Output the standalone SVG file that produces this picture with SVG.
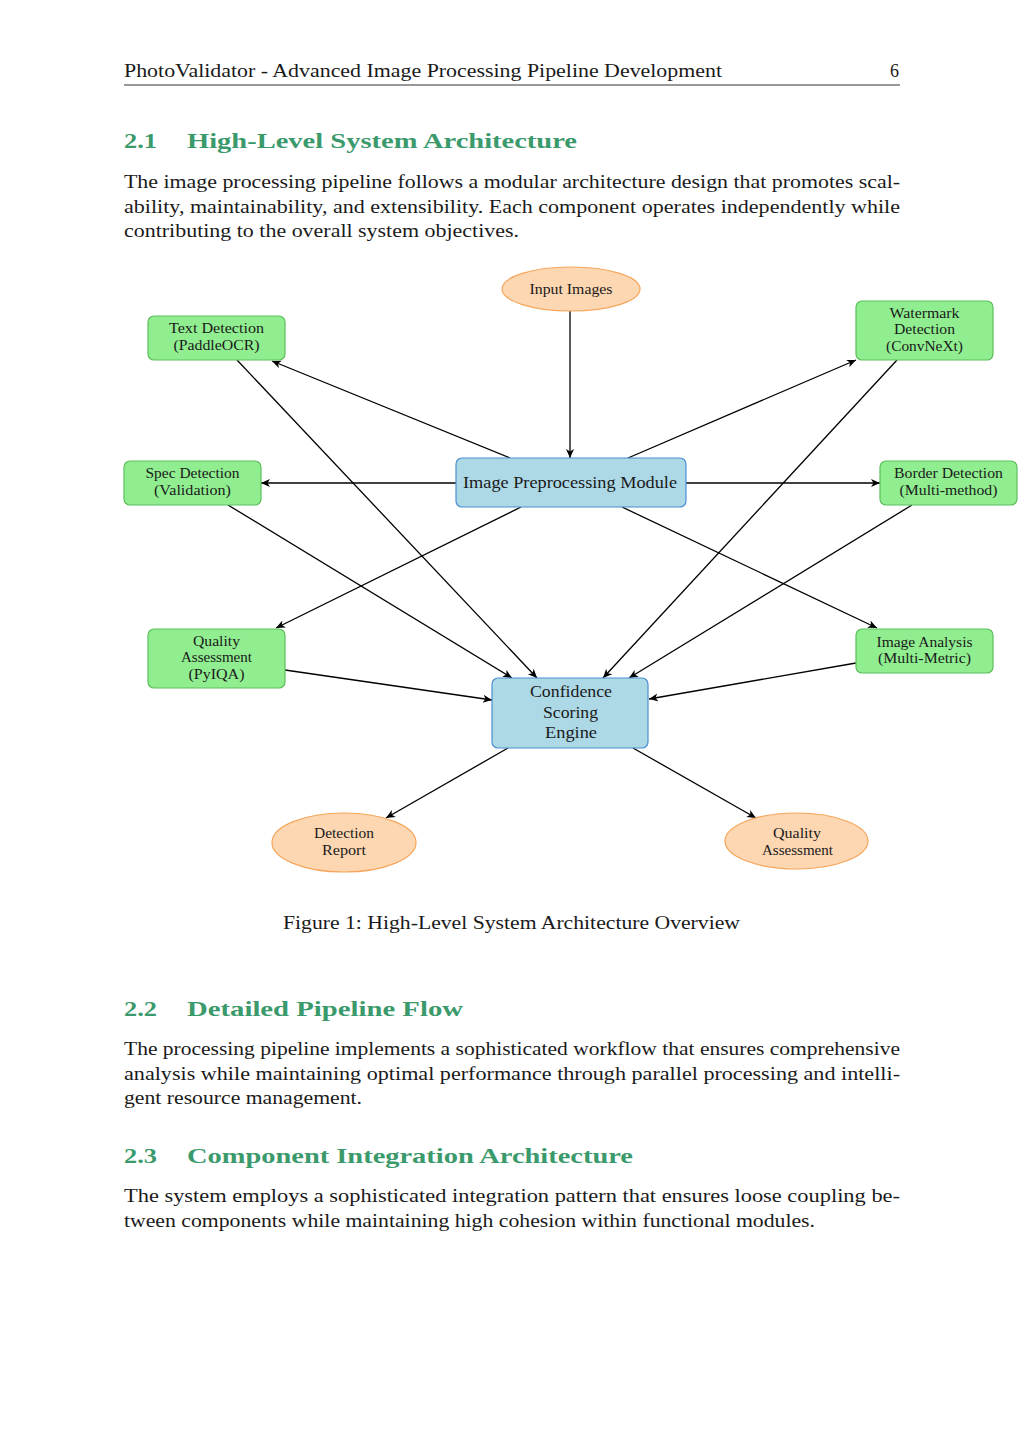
<svg xmlns="http://www.w3.org/2000/svg" width="1024" height="1448" viewBox="0 0 1024 1448">
<defs>
<style>
text{font-family:"Liberation Serif","DejaVu Serif",serif;fill:#1a1a1a}
.hdr{font-size:18px}
.body{font-size:18.5px}
.h{font-size:21px;font-weight:bold;fill:#3b9a6c}
.cap{font-size:18px}
.n{font-size:14.5px;text-anchor:middle}
.nb{font-size:17px;text-anchor:middle}
.g{fill:#90ee90;stroke:#5cbf5c;stroke-width:1.2}
.b{fill:#add8e6;stroke:#4a8fd0;stroke-width:1.2}
.o{fill:#fdd6b2;stroke:#f5a55a;stroke-width:1.2}
.e{stroke:#000;stroke-width:1.3;fill:none;marker-end:url(#arr)}
</style>
<marker id="arr" markerUnits="userSpaceOnUse" markerWidth="12" markerHeight="10" refX="9" refY="4" orient="auto">
<path d="M0,0 L9,4 L0,8 L2.5,4 z" fill="#000"/>
</marker>
</defs>
<rect width="1024" height="1448" fill="#fff"/>

<g id="header">
<text class="hdr" x="124" y="77" textLength="598" lengthAdjust="spacingAndGlyphs">PhotoValidator - Advanced Image Processing Pipeline Development</text>
<text class="hdr" x="899" y="77" text-anchor="end">6</text>
<line x1="124" y1="85" x2="900" y2="85" stroke="#333" stroke-width="1"/>
</g>

<g id="sec21">
<text class="h" x="124" y="148" textLength="33" lengthAdjust="spacingAndGlyphs">2.1</text>
<text class="h" x="187" y="148" textLength="390" lengthAdjust="spacingAndGlyphs">High-Level System Architecture</text>
<text class="body" x="124" y="188" textLength="776" lengthAdjust="spacingAndGlyphs">The image processing pipeline follows a modular architecture design that promotes scal-</text>
<text class="body" x="124" y="212.5" textLength="776" lengthAdjust="spacingAndGlyphs">ability, maintainability, and extensibility. Each component operates independently while</text>
<text class="body" x="124" y="237" textLength="395" lengthAdjust="spacingAndGlyphs">contributing to the overall system objectives.</text>
</g>

<g id="connectors">
<line class="e" x1="570" y1="311" x2="570" y2="458"/>
<line class="e" x1="510" y1="458" x2="272" y2="361"/>
<line class="e" x1="456" y1="483" x2="261" y2="483"/>
<line class="e" x1="628" y1="458" x2="856" y2="360"/>
<line class="e" x1="686" y1="483" x2="880" y2="483"/>
<line class="e" x1="521" y1="507" x2="276" y2="628"/>
<line class="e" x1="622" y1="507" x2="877" y2="628"/>
<line class="e" x1="237" y1="360" x2="537" y2="678"/>
<line class="e" x1="228" y1="505" x2="512" y2="678"/>
<line class="e" x1="897" y1="360" x2="603" y2="678"/>
<line class="e" x1="912" y1="505" x2="629" y2="678"/>
<line class="e" x1="285" y1="670" x2="492" y2="700"/>
<line class="e" x1="856" y1="663" x2="649" y2="699"/>
<line class="e" x1="508" y1="748" x2="386" y2="818"/>
<line class="e" x1="633" y1="748" x2="756" y2="818"/>
</g>

<g id="input-images">
<ellipse class="o" cx="571" cy="289" rx="69" ry="22"/>
<text class="n" x="571" y="293.5" textLength="83" lengthAdjust="spacingAndGlyphs">Input Images</text>
</g>

<g id="text-detection">
<rect class="g" x="148" y="316" width="137" height="44" rx="6"/>
<text class="n" x="216.5" y="333" textLength="95" lengthAdjust="spacingAndGlyphs">Text Detection</text>
<text class="n" x="216.5" y="350" textLength="86" lengthAdjust="spacingAndGlyphs">(PaddleOCR)</text>
</g>

<g id="watermark-detection">
<rect class="g" x="856" y="301" width="137" height="59" rx="6"/>
<text class="n" x="924.5" y="318" textLength="70" lengthAdjust="spacingAndGlyphs">Watermark</text>
<text class="n" x="924.5" y="334" textLength="61" lengthAdjust="spacingAndGlyphs">Detection</text>
<text class="n" x="924.5" y="350.5" textLength="77" lengthAdjust="spacingAndGlyphs">(ConvNeXt)</text>
</g>

<g id="spec-detection">
<rect class="g" x="124" y="461" width="137" height="44" rx="6"/>
<text class="n" x="192.5" y="478" textLength="94" lengthAdjust="spacingAndGlyphs">Spec Detection</text>
<text class="n" x="192.5" y="495" textLength="77" lengthAdjust="spacingAndGlyphs">(Validation)</text>
</g>

<g id="preprocessing">
<rect class="b" x="456" y="458" width="230" height="49" rx="6"/>
<text class="nb" x="570" y="487.5" textLength="214" lengthAdjust="spacingAndGlyphs">Image Preprocessing Module</text>
</g>

<g id="border-detection">
<rect class="g" x="880" y="461" width="137" height="44" rx="6"/>
<text class="n" x="948.5" y="478" textLength="109" lengthAdjust="spacingAndGlyphs">Border Detection</text>
<text class="n" x="948.5" y="495" textLength="98" lengthAdjust="spacingAndGlyphs">(Multi-method)</text>
</g>

<g id="quality-assessment-pyiqa">
<rect class="g" x="148" y="629" width="137" height="59" rx="6"/>
<text class="n" x="216.5" y="646" textLength="47" lengthAdjust="spacingAndGlyphs">Quality</text>
<text class="n" x="216.5" y="662" textLength="71" lengthAdjust="spacingAndGlyphs">Assessment</text>
<text class="n" x="216.5" y="678.5" textLength="56" lengthAdjust="spacingAndGlyphs">(PyIQA)</text>
</g>

<g id="image-analysis">
<rect class="g" x="856" y="629" width="137" height="44" rx="6"/>
<text class="n" x="924.5" y="646.5" textLength="96" lengthAdjust="spacingAndGlyphs">Image Analysis</text>
<text class="n" x="924.5" y="663" textLength="93" lengthAdjust="spacingAndGlyphs">(Multi-Metric)</text>
</g>

<g id="confidence-engine">
<rect class="b" x="492" y="678" width="156" height="70" rx="6"/>
<text class="nb" x="571" y="697" textLength="82" lengthAdjust="spacingAndGlyphs">Confidence</text>
<text class="nb" x="570.5" y="717.5" textLength="55" lengthAdjust="spacingAndGlyphs">Scoring</text>
<text class="nb" x="571" y="737.5" textLength="52" lengthAdjust="spacingAndGlyphs">Engine</text>
</g>

<g id="detection-report">
<ellipse class="o" cx="344" cy="842.5" rx="72" ry="29.5"/>
<text class="n" x="344" y="838" textLength="60" lengthAdjust="spacingAndGlyphs">Detection</text>
<text class="n" x="344" y="855" textLength="44" lengthAdjust="spacingAndGlyphs">Report</text>
</g>

<g id="quality-assessment-out">
<ellipse class="o" cx="796.5" cy="841" rx="71.5" ry="28"/>
<text class="n" x="797" y="838" textLength="48" lengthAdjust="spacingAndGlyphs">Quality</text>
<text class="n" x="797.5" y="855" textLength="71" lengthAdjust="spacingAndGlyphs">Assessment</text>
</g>

<g id="caption">
<text class="cap" x="283" y="929" textLength="457" lengthAdjust="spacingAndGlyphs">Figure 1: High-Level System Architecture Overview</text>
</g>

<g id="sec22">
<text class="h" x="124" y="1016" textLength="33" lengthAdjust="spacingAndGlyphs">2.2</text>
<text class="h" x="187" y="1016" textLength="276" lengthAdjust="spacingAndGlyphs">Detailed Pipeline Flow</text>
<text class="body" x="124" y="1055" textLength="776" lengthAdjust="spacingAndGlyphs">The processing pipeline implements a sophisticated workflow that ensures comprehensive</text>
<text class="body" x="124" y="1080" textLength="776" lengthAdjust="spacingAndGlyphs">analysis while maintaining optimal performance through parallel processing and intelli-</text>
<text class="body" x="124" y="1104" textLength="238" lengthAdjust="spacingAndGlyphs">gent resource management.</text>
</g>

<g id="sec23">
<text class="h" x="124" y="1163" textLength="33" lengthAdjust="spacingAndGlyphs">2.3</text>
<text class="h" x="187" y="1163" textLength="446" lengthAdjust="spacingAndGlyphs">Component Integration Architecture</text>
<text class="body" x="124" y="1202" textLength="776" lengthAdjust="spacingAndGlyphs">The system employs a sophisticated integration pattern that ensures loose coupling be-</text>
<text class="body" x="124" y="1227" textLength="691" lengthAdjust="spacingAndGlyphs">tween components while maintaining high cohesion within functional modules.</text>
</g>
</svg>
